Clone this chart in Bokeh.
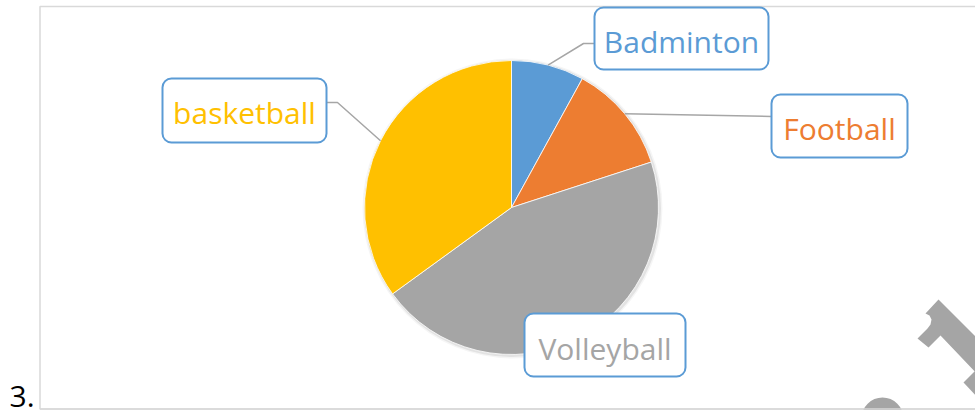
import math
from bokeh.plotting import figure
from bokeh.models import Range1d
from bokeh.core.properties import value
from bokeh.embed import file_html
from bokeh.resources import INLINE

# ---- data ----
categories = ["Badminton", "Football", "Volleyball", "basketball"]
shares = [8, 12, 45, 35]
colors = ["#5B9BD5", "#ED7D31", "#A5A5A5", "#FFC000"]

# ---- layout (screen pixels of the picture) ----
W, H = 975, 410
def Y(sy):
    return H - sy

CX, CY, R = 511, Y(207), 147
FONT = value("Open Sans")
FS = 30  # label font size px

# label boxes: left, right, top, bottom, text baseline (screen coords)
boxes = {
    "Badminton": (594, 768, 7, 69, 52),
    "Football": (771, 907, 94, 157, 139),
    "Volleyball": (524, 685, 313, 376, 359),
    "basketball": (162, 326, 78, 142, 123),
}
# leader line: bend point and end point at box (screen coords), None = no line
leaders = {
    "Badminton": [(583, 43), (594, 43)],
    "Football": [(771, 116)],
    "Volleyball": None,
    "basketball": [(337, 102), (326, 102)],
}

p = figure(width=W, height=H, x_range=Range1d(0, W), y_range=Range1d(0, H),
           output_backend="svg", toolbar_location=None, min_border=0,
           x_axis_location=None, y_axis_location=None)
p.outline_line_color = None
p.grid.visible = False
p.background_fill_color = "white"
p.border_fill_color = "white"

# chart frame
p.quad(left=39.5, right=995, top=Y(6), bottom=Y(408.5), fill_color=None,
       line_color="#d9d9d9", line_width=1.5)

# soft shadow
p.circle(x=CX + 1, y=CY - 1, radius=R + 3, fill_color="black", fill_alpha=0.04, line_color=None)
p.circle(x=CX + 1, y=CY - 1, radius=R + 1.5, fill_color="black", fill_alpha=0.07, line_color=None)

# pie
total = float(sum(shares))
cum = 0.0
starts, ends, mids = [], [], []
for s in shares:
    a0 = math.pi / 2 - 2 * math.pi * cum / total
    cum += s
    a1 = math.pi / 2 - 2 * math.pi * cum / total
    starts.append(a0)
    ends.append(a1)
    mids.append((a0 + a1) / 2)

p.wedge(x=[CX] * len(shares), y=[CY] * len(shares), radius=R,
        start_angle=starts, end_angle=ends, direction="clock",
        fill_color=colors, line_color="white", line_width=0.8)

# leader lines
for cat, m in zip(categories, mids):
    pts = leaders[cat]
    if not pts:
        continue
    xs = [CX + R * math.cos(m)] + [pt[0] for pt in pts]
    ys = [CY + R * math.sin(m)] + [Y(pt[1]) for pt in pts]
    p.line(xs, ys, line_color="#A6A6A6", line_width=1.5)

# label boxes and texts
for cat, col in zip(categories, colors):
    l, r, t, b, base = boxes[cat]
    p.quad(left=l, right=r, top=Y(t), bottom=Y(b), fill_color="white",
           line_color="#5B9BD5", line_width=2, border_radius=9)
    p.text(x=[(l + r) / 2], y=[Y(base - 0.37 * FS)], text=[cat], text_color=col,
           text_font=FONT, text_font_size=f"{FS}px", text_align="center",
           text_baseline="middle")

# page number
p.text(x=[9], y=[Y(396)], text=["3."], text_color="black", text_font=FONT,
       text_font_size="30px", text_align="left", text_baseline="middle")

# watermark fragments (decoration)
wm_color = "#A5A5A5"
p.patch([938, 980, 980, 940, 928, 917, 927, 930, 931, 929, 925],
        [Y(299), Y(341), Y(377), Y(335), Y(347), Y(338), Y(328), Y(324), Y(319), Y(315), Y(313)],
        color=wm_color, line_color=None)
p.patch([963, 980, 980], [Y(382), Y(365), Y(400)], color=wm_color, line_color=None)
p.circle(x=[882], y=[Y(418)], radius=21, fill_color=wm_color, line_color=None)
# frame bottom drawn over watermark dome
p.line([39.5, 995], [Y(408.5), Y(408.5)], line_color="#d9d9d9", line_width=1.5)

html = file_html(p, INLINE)
html = html.replace("<head>", "<head><style>html,body{margin:0;padding:0;overflow:hidden}</style>", 1)
open("out.html", "w").write(html)
